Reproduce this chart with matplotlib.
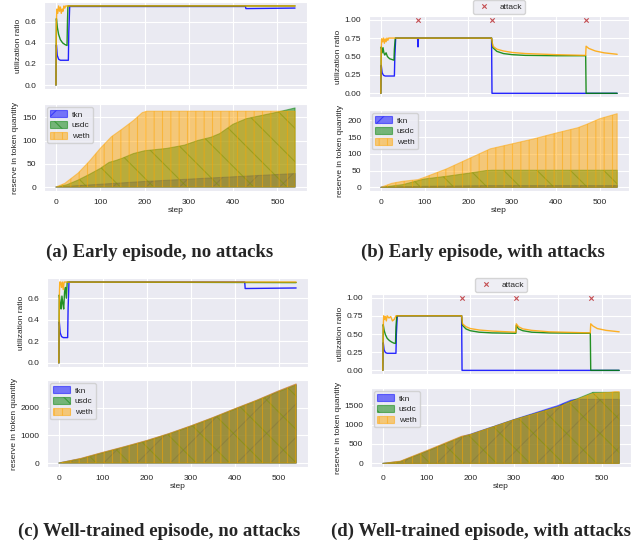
import matplotlib
matplotlib.use("Agg")
import matplotlib.pyplot as plt
import seaborn as sns

# ---- data ------------------------------------------------------------------
tokens = ["tkn", "usdc", "weth"]
colors = ["blue", "green", "orange"]
hatches = ["/", "\\", "||"]
step_ticks = [0, 100, 200, 300, 400, 500]

captions = ["(a) Early episode, no attacks",
            "(b) Early episode, with attacks",
            "(c) Well-trained episode, no attacks",
            "(d) Well-trained episode, with attacks"]

util_ticks = [[0, 0.2, 0.4, 0.6], [0, 0.25, 0.5, 0.75, 1.0],
              [0, 0.2, 0.4, 0.6], [0, 0.25, 0.5, 0.75, 1.0]]
res_ticks = [[0, 50, 100, 150], [0, 50, 100, 150, 200],
             [0, 1000, 2000], [0, 500, 1000, 1500]]

# (a) early episode, no attacks
a_util_tkn_x = [0, 1, 3, 6, 10, 28, 29, 31, 428, 429, 540]
a_util_tkn_y = [0, 0.38, 0.28, 0.245, 0.235, 0.235, 0.5, 0.745, 0.745, 0.725, 0.73]
a_util_usdc_x = [0, 1, 3, 6, 10, 15, 20, 25, 26, 27, 540]
a_util_usdc_y = [0, 0.63, 0.55, 0.48, 0.43, 0.40, 0.385, 0.375, 0.6, 0.75, 0.75]
a_util_weth_x = [0, 1, 2, 4, 6, 8, 10, 12, 14, 16, 18, 20, 22, 24, 540]
a_util_weth_y = [0, 0.6, 0.72, 0.68, 0.75, 0.7, 0.74, 0.68, 0.72, 0.7, 0.75, 0.73, 0.75, 0.75, 0.75]
a_res_tkn_x = [0, 100, 200, 300, 400, 500, 540]
a_res_tkn_y = [0, 6, 12, 17, 22, 27, 29]
a_res_usdc_x = [0, 25, 50, 75, 100, 120, 135, 150, 175, 200, 250, 290, 320, 350, 370, 400, 430, 460, 500, 540]
a_res_usdc_y = [0, 5, 15, 27, 40, 53, 57, 62, 72, 78, 83, 90, 100, 107, 115, 135, 147, 153, 161, 170]
a_res_weth_x = [0, 20, 50, 75, 100, 125, 150, 175, 195, 205, 540]
a_res_weth_y = [0, 8, 30, 55, 83, 108, 125, 143, 160, 163, 163]

# (b) early episode, with attacks
b_attacks = [84, 253, 469]
b_util_tkn_x = [0, 1, 3, 6, 10, 31, 32, 34, 84, 85, 86, 253, 254, 540]
b_util_tkn_y = [0, 0.38, 0.28, 0.245, 0.235, 0.235, 0.5, 0.75, 0.75, 0.63, 0.75, 0.75, 0, 0]
b_util_usdc_x = [0, 1, 3, 5, 7, 9, 12, 15, 20, 25, 30, 31, 33, 253, 256, 265, 280, 300, 330, 400, 468, 469, 540]
b_util_usdc_y = [0, 0.63, 0.55, 0.62, 0.55, 0.52, 0.55, 0.5, 0.47, 0.46, 0.45, 0.6, 0.75, 0.75, 0.62, 0.57,
                 0.54, 0.525, 0.515, 0.51, 0.51, 0, 0]
b_util_weth_x = [0, 1, 2, 4, 6, 8, 10, 12, 14, 16, 18, 20, 34, 253, 256, 265, 280, 300, 330, 400, 468, 469,
                 475, 490, 510, 540]
b_util_weth_y = [0, 0.6, 0.74, 0.7, 0.75, 0.68, 0.74, 0.7, 0.75, 0.72, 0.75, 0.75, 0.75, 0.75, 0.64, 0.6,
                 0.575, 0.555, 0.54, 0.525, 0.515, 0.64, 0.61, 0.575, 0.55, 0.53]
b_res_tkn_x = [0, 100, 250, 540]
b_res_tkn_y = [0, 3, 5, 5]
b_res_usdc_x = [0, 25, 50, 85, 100, 150, 200, 240, 255, 540]
b_res_usdc_y = [0, 4, 8, 20, 25, 33, 42, 50, 51, 51]
b_res_weth_x = [0, 25, 50, 85, 100, 150, 200, 250, 300, 350, 400, 450, 470, 500, 540]
b_res_weth_y = [0, 12, 18, 23, 30, 55, 85, 115, 130, 145, 162, 178, 188, 205, 220]

# (c) well-trained episode, no attacks
c_util_tkn_x = [0, 1, 3, 6, 10, 20, 21, 23, 423, 424, 540]
c_util_tkn_y = [0, 0.38, 0.28, 0.245, 0.235, 0.235, 0.5, 0.75, 0.75, 0.69, 0.695]
c_util_usdc_x = [0, 1, 3, 5, 7, 9, 11, 13, 15, 17, 19, 540]
c_util_usdc_y = [0, 0.63, 0.55, 0.5, 0.62, 0.55, 0.5, 0.66, 0.7, 0.6, 0.75, 0.745]
c_util_weth_x = [0, 1, 2, 4, 6, 8, 10, 12, 14, 540]
c_util_weth_y = [0, 0.6, 0.75, 0.75, 0.7, 0.75, 0.68, 0.75, 0.75, 0.75]
c_res_x = [0, 50, 100, 150, 200, 250, 300, 350, 400, 450, 500, 540]
c_res_tkn_y = [0, 160, 380, 590, 810, 1060, 1340, 1640, 1960, 2270, 2610, 2860]
c_res_usdc_y = [0, 150, 370, 580, 800, 1050, 1330, 1630, 1950, 2260, 2590, 2830]
c_res_weth_y = [0, 170, 390, 600, 820, 1070, 1350, 1650, 1970, 2280, 2620, 2870]

# (d) well-trained episode, with attacks
d_attacks = [180, 305, 475]
d_util_tkn_x = [0, 1, 3, 6, 10, 30, 31, 33, 180, 181, 540]
d_util_tkn_y = [0, 0.38, 0.28, 0.245, 0.235, 0.235, 0.5, 0.75, 0.75, 0, 0]
d_util_usdc_x = [0, 1, 3, 6, 10, 15, 20, 25, 29, 30, 32, 180, 182, 190, 200, 220, 250, 304, 305, 310, 320,
                 340, 380, 474, 475, 540]
d_util_usdc_y = [0, 0.63, 0.55, 0.49, 0.44, 0.41, 0.39, 0.375, 0.37, 0.6, 0.75, 0.75, 0.62, 0.57, 0.545,
                 0.525, 0.515, 0.51, 0.62, 0.57, 0.545, 0.525, 0.515, 0.51, 0, 0]
d_util_weth_x = [0, 1, 2, 4, 6, 8, 10, 14, 18, 22, 26, 30, 32, 180, 182, 190, 200, 220, 250, 304, 305, 310,
                 320, 340, 380, 474, 475, 480, 490, 510, 540]
d_util_weth_y = [0, 0.6, 0.75, 0.7, 0.74, 0.68, 0.75, 0.72, 0.74, 0.68, 0.7, 0.75, 0.75, 0.75, 0.64, 0.6,
                 0.575, 0.555, 0.54, 0.525, 0.64, 0.6, 0.57, 0.55, 0.53, 0.515, 0.64, 0.61, 0.575, 0.55, 0.53]
d_res_tkn_x = [0, 40, 100, 180, 200, 300, 400, 430, 440, 540]
d_res_tkn_y = [0, 50, 317, 690, 750, 1130, 1490, 1630, 1650, 1650]
d_res_usdc_x = [0, 40, 100, 180, 200, 300, 400, 430, 480, 540]
d_res_usdc_y = [0, 45, 310, 680, 740, 1125, 1455, 1600, 1830, 1830]
d_res_weth_x = [0, 40, 100, 180, 200, 300, 400, 430, 470, 480, 520, 530, 540]
d_res_weth_y = [0, 60, 330, 700, 745, 1125, 1450, 1590, 1760, 1800, 1830, 1850, 1850]

# ---- layout (pixel boxes: left, top, right, bottom) ------------------------
W, H = 643, 545
boxes_top = [(44, 2, 307, 89), (369, 16, 629, 97), (47, 278, 308, 367), (371, 294, 631, 374)]
boxes_bot = [(44, 104, 307, 191), (369, 110, 629, 191), (47, 380, 308, 467), (371, 388, 631, 467)]
caption_pos = [(160, 252), (483, 252), (159, 531), (481, 531)]


def rect(box):
    l, t, r, b = box
    return [l / W, 1 - b / H, (r - l) / W, (b - t) / H]


def draw_panel(fig, i, util, res, attacks=None):
    ax1 = fig.add_axes(rect(boxes_top[i]))
    ax2 = fig.add_axes(rect(boxes_bot[i]), sharex=ax1)

    for (x, y), c in zip(util, colors):
        ax1.plot(x, y, color=c, lw=1.0, alpha=0.85)
    if attacks is not None:
        ax1.scatter(attacks, [1.0] * len(attacks), marker="x", color="#c44e52", s=10, lw=0.8,
                    label="attack", zorder=5)
        ax1.legend(loc="lower center", bbox_to_anchor=(0.5, 1.0), fontsize=6, borderaxespad=0.3,
                   handletextpad=0.8, borderpad=0.35)
    ax1.set_yticks(util_ticks[i])
    ax1.set_ylabel("utilization ratio", fontsize=6, labelpad=2)
    ax1.tick_params(labelbottom=False, labelsize=6, pad=2)

    for (x, y), c, h, name in zip(res, colors, hatches, tokens):
        ax2.fill_between(x, y, color=c, alpha=0.5, hatch=h, lw=0.8, label=name)
    ax2.legend(loc="upper left", fontsize=6, handlelength=2.0, handleheight=0.9, borderaxespad=0.4,
               labelspacing=0.3, borderpad=0.35, handletextpad=0.6)
    ax2.set_yticks(res_ticks[i])
    ax2.set_ylabel("reserve in token quantity", fontsize=6, labelpad=2)
    ax2.set_xlabel("step", fontsize=6, labelpad=1)
    ax2.set_xticks(step_ticks)
    ax2.tick_params(labelsize=6, pad=2)

    cx, cy = caption_pos[i]
    fig.text(cx / W, 1 - cy / H, captions[i], ha="center", va="center", fontsize=13.5,
             fontweight="bold", family=["Liberation Serif", "DejaVu Serif"])


sns.set_style("darkgrid")
plt.rcParams["font.family"] = ["Liberation Sans", "DejaVu Sans"]
plt.rcParams["hatch.linewidth"] = 0.8

fig = plt.figure(figsize=(W / 100, H / 100), dpi=100)

draw_panel(fig, 0,
           [(a_util_tkn_x, a_util_tkn_y), (a_util_usdc_x, a_util_usdc_y), (a_util_weth_x, a_util_weth_y)],
           [(a_res_tkn_x, a_res_tkn_y), (a_res_usdc_x, a_res_usdc_y), (a_res_weth_x, a_res_weth_y)])
draw_panel(fig, 1,
           [(b_util_tkn_x, b_util_tkn_y), (b_util_usdc_x, b_util_usdc_y), (b_util_weth_x, b_util_weth_y)],
           [(b_res_tkn_x, b_res_tkn_y), (b_res_usdc_x, b_res_usdc_y), (b_res_weth_x, b_res_weth_y)],
           attacks=b_attacks)
draw_panel(fig, 2,
           [(c_util_tkn_x, c_util_tkn_y), (c_util_usdc_x, c_util_usdc_y), (c_util_weth_x, c_util_weth_y)],
           [(c_res_x, c_res_tkn_y), (c_res_x, c_res_usdc_y), (c_res_x, c_res_weth_y)])
draw_panel(fig, 3,
           [(d_util_tkn_x, d_util_tkn_y), (d_util_usdc_x, d_util_usdc_y), (d_util_weth_x, d_util_weth_y)],
           [(d_res_tkn_x, d_res_tkn_y), (d_res_usdc_x, d_res_usdc_y), (d_res_weth_x, d_res_weth_y)],
           attacks=d_attacks)

fig.savefig("out.png", dpi=100)
